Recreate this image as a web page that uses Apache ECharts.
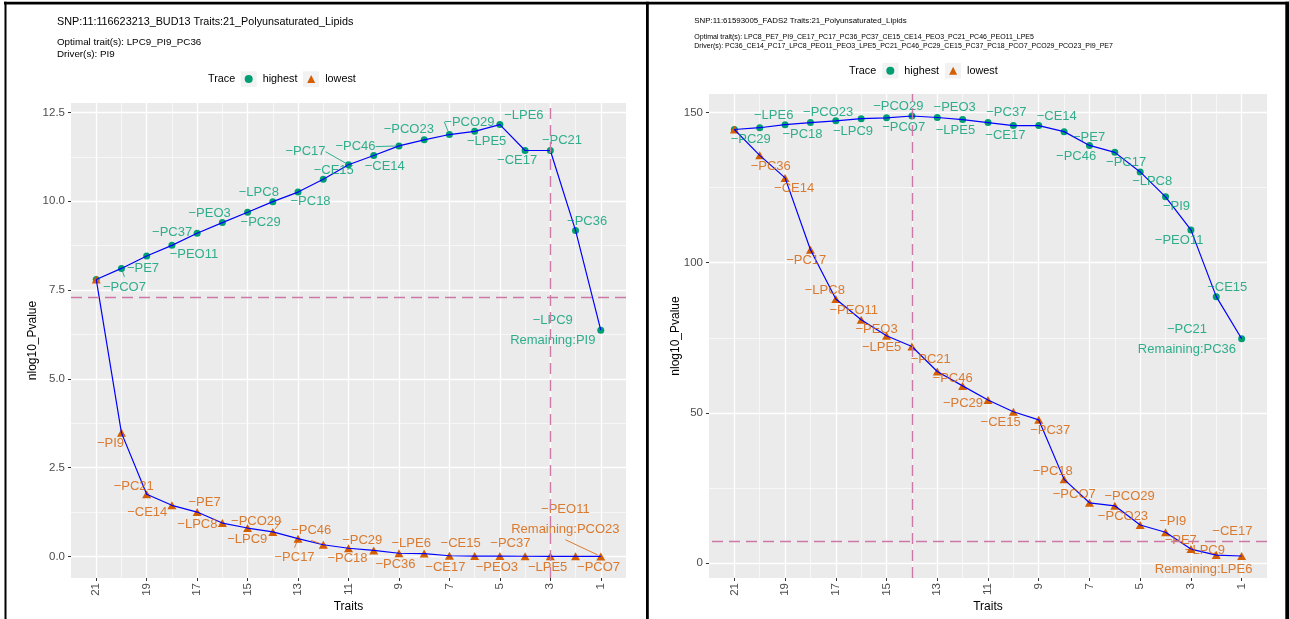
<!DOCTYPE html>
<html>
<head>
<meta charset="utf-8">
<title>Trait trace</title>
<script src="https://cdn.jsdelivr.net/npm/echarts@6/dist/echarts.min.js"></script>
<style>
  html, body { margin: 0; padding: 0; background: #fff; }
  #main { width: 1289px; height: 619px; }
</style>
</head>
<body>
<div id="main"></div>
<script>
// traits left in the set at each step (x axis, read left to right)
const traitCounts = [21, 20, 19, 18, 17, 16, 15, 14, 13, 12, 11, 10, 9, 8, 7, 6, 5, 4, 3, 2, 1];

// BUD13 panel
const budHighest = [7.80, 8.11, 8.46, 8.76, 9.10, 9.40, 9.69, 9.99, 10.26, 10.62, 11.03,
  11.29, 11.56, 11.73, 11.88, 11.97, 12.16, 11.43, 11.43, 9.18, 6.37];
const budLowest = [7.80, 3.48, 1.75, 1.44, 1.25, 0.94, 0.80, 0.69, 0.50, 0.33, 0.23,
  0.17, 0.09, 0.08, 0.02, 0.01, 0.01, 0.005, 0.004, 0.002, 0.001];
const budHighestDropped = ['', 'PCO7', 'PE7', 'PEO11', 'PC37', 'PEO3', 'PC29', 'LPC8', 'PC18', 'CE15', 'PC17',
  'CE14', 'PC46', 'PCO23', 'PCO29', 'LPE5', 'LPE6', 'CE17', 'PC21', 'PC36', 'LPC9'];
const budLowestDropped = ['', 'PI9', 'PC21', 'CE14', 'PE7', 'LPC8', 'LPC9', 'PCO29', 'PC17', 'PC46', 'PC18',
  'PC29', 'PC36', 'LPE6', 'CE17', 'CE15', 'PEO3', 'PC37', 'LPE5', 'PCO7', 'PEO11'];
const budHighestRemaining = 'PI9';
const budLowestRemaining = 'PCO23';
const budCut = 3;

// FADS2 panel
const fadsHighest = [144.3, 144.9, 145.9, 146.6, 147.2, 147.9, 148.2, 148.8, 148.3, 147.6, 146.6,
  145.6, 145.6, 143.6, 139.0, 136.7, 130.2, 121.9, 110.9, 88.7, 74.7];
const fadsLowest = [144.3, 135.7, 128.2, 104.3, 87.9, 81.0, 75.7, 72.1, 63.8, 59.0, 54.3,
  50.4, 47.7, 27.9, 20.1, 19.1, 12.7, 10.3, 4.7, 2.7, 2.4];
const fadsHighestDropped = ['', 'PC29', 'LPE6', 'PC18', 'PCO23', 'LPC9', 'PCO29', 'PCO7', 'PEO3', 'LPE5', 'PC37',
  'CE17', 'CE14', 'PE7', 'PC46', 'PC17', 'LPC8', 'PI9', 'PEO11', 'CE15', 'PC21'];
const fadsLowestDropped = ['', 'PC36', 'CE14', 'PC17', 'LPC8', 'PEO11', 'PEO3', 'LPE5', 'PC21', 'PC46', 'PC29',
  'CE15', 'PC37', 'PC18', 'PCO7', 'PCO29', 'PCO23', 'PI9', 'PE7', 'LPC9', 'CE17'];
const fadsHighestRemaining = 'PC36';
const fadsLowestRemaining = 'LPE6';
const fadsCut = 14;

const gwasLine = 7.3;

// ticks
const xMajor = [1, 3, 5, 7, 9, 11, 13, 15, 17, 19, 21];
const xMinor = [2, 4, 6, 8, 10, 12, 14, 16, 18, 20];
const budYMajor = [0, 2.5, 5, 7.5, 10, 12.5];
const budYMinor = [1.25, 3.75, 6.25, 8.75, 11.25];
const fadsYMajor = [0, 50, 100, 150];
const fadsYMinor = [25, 75, 125];

// where the repelled labels sit, relative to their point (px)
const budHighestOffsets = [[0, 0], [3, 18.5], [-3.7, 12.3], [22, 9], [-25, -0.7], [-12.7, -9.4], [13, 10.4],
  [-14, -9], [12.5, 9.7], [10.5, -9.3], [-43, -13], [11, 11], [-43.5, 0.7], [-15.4, -10.7], [20, -12.6],
  [12, 10.4], [24, -8.7], [-8, 10.4], [11.7, -10.3], [11.6, -8.6], [-48, 0]];
const budLowestOffsets = [[0, 0], [-11, 10.6], [-13, -8.3], [-24.7, 7.3], [7.4, -9.4], [-25, 1.3], [-0.4, 11.6],
  [-16.6, -11], [-3.5, 19], [-12, -14.3], [-1, 10.6], [-11.5, -10], [-3.5, 11.3], [-13, -10], [-4, 11.6],
  [-14, -12.7], [-3, 11.3], [-14.7, -12.7], [-2.7, 11.3], [23, 11.3], [-35.4, -36.7]];
const fadsHighestOffsets = [[0, 0], [-9, 11.7], [-11.4, -9.3], [-8, 11.7], [-7.6, -8.6], [-8.2, 12.4], [11.7, -11.6],
  [-8.2, 11], [17.4, -9.7], [-7.2, 10.4], [18.3, -10], [-8, 9.7], [18, -9], [25, 5.4], [-13.3, 10.7],
  [11.3, 9.7], [12, 9.3], [11, 10], [-11.8, 10.3], [11, -9.3], [-54.7, 1]];
const fadsLowestOffsets = [[0, 0], [11, 10.7], [9, 11], [-4.2, 10.7], [-11, -8.6], [-7.4, -9.3], [-10, -6.7],
  [-30.3, 0.6], [-6.5, -12.4], [-10, -7.7], [-25, 3.3], [-12.7, 10.7], [11.5, 10.7], [-11.4, -8.3], [-15.2, -8.7],
  [14.8, -9], [-17.2, -8.3], [7.2, -10.7], [-10.2, -9], [-11.4, -5], [-38, -5.5]];

const FONT = 'Liberation Sans, Arial, Helvetica, sans-serif';
const GREEN = '#009E73';
const ORANGE = '#D55E00';

const panels = [
  {
    grid: { left: 71, top: 103, width: 555, height: 475 },
    highest: budHighest, lowest: budLowest,
    highDropped: budHighestDropped, lowDropped: budLowestDropped,
    highRemaining: budHighestRemaining, lowRemaining: budLowestRemaining,
    highOffsets: budHighestOffsets, lowOffsets: budLowestOffsets,
    highLeaders: [1, 10, 12, 14], lowLeaders: [7, 8, 9, 20],
    cut: budCut, yMajor: budYMajor, yMinor: budYMinor, yFmt: v => v.toFixed(1), yNameGap: 32
  },
  {
    grid: { left: 709, top: 94, width: 558, height: 484 },
    highest: fadsHighest, lowest: fadsLowest,
    highDropped: fadsHighestDropped, lowDropped: fadsLowestDropped,
    highRemaining: fadsHighestRemaining, lowRemaining: fadsLowestRemaining,
    highOffsets: fadsHighestOffsets, lowOffsets: fadsLowestOffsets,
    highLeaders: [], lowLeaders: [],
    lowSplitLast: true,
    cut: fadsCut, yMajor: fadsYMajor, yMinor: fadsYMinor, yFmt: v => String(v), yNameGap: 27
  }
];

function expand(values) {
  const lo = Math.min(...values), hi = Math.max(...values);
  const pad = (hi - lo) * 0.05;
  return [lo - pad, hi + pad];
}

const grids = [], xAxes = [], yAxes = [], series = [];

function labelItems(values, dropped, remaining, leaders, color, splitLast) {
  const last = values.length - 1;
  return values.map((v, i) => {
    const item = { value: [traitCounts[i], v] };
    let text = dropped[i] ? '\u2212' + dropped[i] : '';
    const label = { show: !!text };
    if (i === last) {
      if (splitLast) {
        text = '{a|\u2212' + dropped[i] + '}\n\n{b|Remaining:' + remaining + '}';
        label.rich = {
          a: { align: 'right', fontSize: 13, color: color, fontFamily: FONT, lineHeight: 19 },
          b: { align: 'center', fontSize: 13, color: color, fontFamily: FONT, lineHeight: 19 }
        };
        label.lineHeight = 19;
      } else {
        text = '\u2212' + dropped[i] + '\nRemaining:' + remaining;
      }
    }
    label.formatter = text;
    item.label = label;
    if (leaders.indexOf(i) >= 0) {
      item.labelLine = { show: true, lineStyle: { color: color, width: 0.8 } };
    }
    return item;
  });
}

function layoutFrom(offsets) {
  return function (params) {
    const off = offsets[params.dataIndex] || [0, 0];
    return {
      x: params.rect.x + params.rect.width / 2 + off[0],
      y: params.rect.y + params.rect.height / 2 + off[1],
      align: 'center',
      verticalAlign: 'middle'
    };
  };
}

panels.forEach((p, i) => {
  const [ymin, ymax] = expand(p.highest.concat(p.lowest));
  grids.push(Object.assign({ show: true, backgroundColor: '#EBEBEB', borderWidth: 0 }, p.grid));

  const xBase = { gridIndex: i, type: 'value', min: 0, max: 22, inverse: true };
  xAxes.push(Object.assign({}, xBase, {
    position: 'bottom',
    name: 'Traits', nameLocation: 'middle', nameGap: 23, nameMoveOverlap: false,
    nameTextStyle: { fontSize: 12, color: '#000', fontFamily: FONT },
    axisLine: { show: false, onZero: false },
    axisTick: { show: true, length: 3, lineStyle: { color: '#333333', width: 1 }, customValues: xMajor },
    axisLabel: { show: true, rotate: 90, margin: 5, fontSize: 11.5, color: '#4D4D4D', fontFamily: FONT, customValues: xMajor },
    splitLine: { show: true, lineStyle: { color: '#FFFFFF', width: 1.3 } }
  }));
  xAxes.push(Object.assign({}, xBase, {
    position: 'bottom',
    axisLine: { show: false, onZero: false },
    axisTick: { show: false, customValues: xMinor },
    axisLabel: { show: false, customValues: xMinor },
    splitLine: { show: true, lineStyle: { color: '#FFFFFF', width: 0.6 } }
  }));

  const yBase = { gridIndex: i, type: 'value', min: ymin, max: ymax };
  yAxes.push(Object.assign({}, yBase, {
    position: 'left',
    name: 'nlog10_Pvalue', nameLocation: 'middle', nameGap: p.yNameGap, nameMoveOverlap: false,
    nameTextStyle: { fontSize: 12, color: '#000', fontFamily: FONT },
    axisLine: { show: false, onZero: false },
    axisTick: { show: true, length: 3, lineStyle: { color: '#333333', width: 1 }, customValues: p.yMajor },
    axisLabel: { show: true, margin: 6, fontSize: 11.5, color: '#4D4D4D', fontFamily: FONT,
      customValues: p.yMajor, formatter: p.yFmt },
    splitLine: { show: true, lineStyle: { color: '#FFFFFF', width: 1.3 } }
  }));
  yAxes.push(Object.assign({}, yBase, {
    position: 'left',
    axisLine: { show: false, onZero: false },
    axisTick: { show: false, customValues: p.yMinor },
    axisLabel: { show: false, customValues: p.yMinor },
    splitLine: { show: true, lineStyle: { color: '#FFFFFF', width: 0.6 } }
  }));

  const ax = { xAxisIndex: i * 2, yAxisIndex: i * 2 };
  const pts = vals => vals.map((v, k) => [traitCounts[k], v]);

  // markers
  series.push(Object.assign({
    name: 'highest', type: 'scatter', z: 2, symbol: 'circle', symbolSize: 7,
    itemStyle: { color: GREEN, opacity: 1 }, data: pts(p.highest), silent: true
  }, ax));
  series.push(Object.assign({
    name: 'lowest', type: 'scatter', z: 2, symbol: 'triangle', symbolSize: [9, 8],
    itemStyle: { color: ORANGE, opacity: 1 }, data: pts(p.lowest), silent: true
  }, ax));

  // trace lines + thresholds
  series.push(Object.assign({
    name: 'highest-line', type: 'line', z: 3, symbol: 'none', showSymbol: false, silent: true,
    lineStyle: { color: '#0000FF', width: 1.2 }, data: pts(p.highest),
    markLine: {
      silent: true, symbol: ['none', 'none'], label: { show: false },
      lineStyle: { color: '#CC79A7', type: [11, 6], width: 1.4 },
      data: [{ yAxis: gwasLine }, { xAxis: p.cut }]
    }
  }, ax));
  series.push(Object.assign({
    name: 'lowest-line', type: 'line', z: 3, symbol: 'none', showSymbol: false, silent: true,
    lineStyle: { color: '#0000FF', width: 1.2 }, data: pts(p.lowest)
  }, ax));

  // repelled labels
  const labelBase = { show: true, position: 'inside', fontSize: 13, fontFamily: FONT, lineHeight: 20 };
  series.push(Object.assign({
    name: 'highest-labels', type: 'scatter', z: 4, symbolSize: 7, silent: true,
    itemStyle: { color: 'rgba(0,0,0,0)' },
    label: Object.assign({ color: GREEN }, labelBase),
    labelLine: { show: false },
    labelLayout: layoutFrom(p.highOffsets),
    data: labelItems(p.highest, p.highDropped, p.highRemaining, p.highLeaders, GREEN, false)
  }, ax));
  series.push(Object.assign({
    name: 'lowest-labels', type: 'scatter', z: 4, symbolSize: 7, silent: true,
    itemStyle: { color: 'rgba(0,0,0,0)' },
    label: Object.assign({ color: ORANGE }, labelBase),
    labelLine: { show: false },
    labelLayout: layoutFrom(p.lowOffsets),
    data: labelItems(p.lowest, p.lowDropped, p.lowRemaining, p.lowLeaders, ORANGE, !!p.lowSplitLast)
  }, ax));
});

const legendBase = {
  data: [{ name: 'highest', icon: 'circle' }, { name: 'lowest', icon: 'triangle' }],
  orient: 'horizontal', padding: 0, itemWidth: 8, itemHeight: 8, selectedMode: false, z: 5,
  textStyle: { fontSize: 10.8, color: '#000', fontFamily: FONT, lineHeight: 14, padding: [0, 0, 0, 5] }
};

const option = {
  animation: false,
  textStyle: { fontFamily: FONT },
  title: [
    {
      text: 'SNP:11:116623213_BUD13 Traits:21_Polyunsaturated_Lipids',
      subtext: 'Optimal trait(s): LPC9_PI9_PC36\nDriver(s): PI9',
      left: 57, top: 15.2, padding: 0, itemGap: 7.8,
      textStyle: { fontSize: 10.8, fontWeight: 'normal', color: '#000', lineHeight: 13, fontFamily: FONT },
      subtextStyle: { fontSize: 9.8, color: '#000', lineHeight: 12, fontFamily: FONT }
    },
    {
      text: 'SNP:11:61593005_FADS2 Traits:21_Polyunsaturated_Lipids',
      subtext: 'Optimal trait(s): LPC8_PE7_PI9_CE17_PC17_PC36_PC37_CE15_CE14_PEO3_PC21_PC46_PEO11_LPE5\n' +
        'Driver(s): PC36_CE14_PC17_LPC8_PEO11_PEO3_LPE5_PC21_PC46_PC29_CE15_PC37_PC18_PCO7_PCO29_PCO23_PI9_PE7',
      left: 694.3, top: 16, padding: 0, itemGap: 6.2,
      textStyle: { fontSize: 7.9, fontWeight: 'normal', color: '#000', lineHeight: 10, fontFamily: FONT },
      subtextStyle: { fontSize: 7.0, color: '#000', lineHeight: 9, fontFamily: FONT }
    }
  ],
  legend: [
    Object.assign({}, legendBase, { left: 244.7, top: 72, itemGap: 9.7 }),
    Object.assign({}, legendBase, { left: 886.3, top: 63.7, itemGap: 10 })
  ],
  graphic: [
    // legend key backgrounds
    { type: 'rect', z: 1, shape: { x: 240.7, y: 71.3, width: 16, height: 15.5 }, style: { fill: '#F2F2F2' } },
    { type: 'rect', z: 1, shape: { x: 303, y: 71.3, width: 16, height: 15.5 }, style: { fill: '#F2F2F2' } },
    { type: 'rect', z: 1, shape: { x: 882.3, y: 63, width: 16, height: 15.5 }, style: { fill: '#F2F2F2' } },
    { type: 'rect', z: 1, shape: { x: 945, y: 63, width: 16, height: 15.5 }, style: { fill: '#F2F2F2' } },
    { type: 'text', z: 5, x: 208, y: 79, style: { text: 'Trace', font: '10.8px ' + FONT, fill: '#000',
      verticalAlign: 'middle', textVerticalAlign: 'middle' } },
    { type: 'text', z: 5, x: 849, y: 70.7, style: { text: 'Trace', font: '10.8px ' + FONT, fill: '#000',
      verticalAlign: 'middle', textVerticalAlign: 'middle' } },
    // image frames
    { type: 'rect', z: 100, shape: { x: 4, y: 1.8, width: 1285, height: 2.8 }, style: { fill: '#000' } },
    { type: 'rect', z: 100, shape: { x: 4.5, y: 1.8, width: 2, height: 618 }, style: { fill: '#000' } },
    { type: 'rect', z: 100, shape: { x: 646, y: 1.8, width: 2.8, height: 618 }, style: { fill: '#000' } },
    { type: 'rect', z: 100, shape: { x: 1285.3, y: 1.8, width: 3.7, height: 618 }, style: { fill: '#000' } }
  ],
  grid: grids,
  xAxis: xAxes,
  yAxis: yAxes,
  series: series
};

const chart = echarts.init(document.getElementById('main'), null, { renderer: 'canvas' });
chart.setOption(option);
</script>
</body>
</html>
